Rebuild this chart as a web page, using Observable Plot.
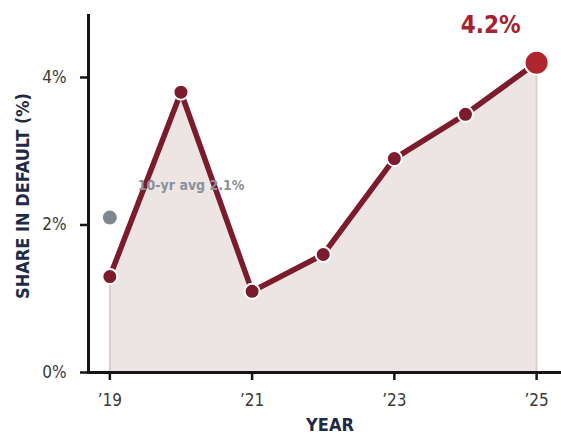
<!DOCTYPE html>
<html><head><meta charset="utf-8">
<script src="https://cdn.jsdelivr.net/npm/d3@7"></script>
<script src="https://cdn.jsdelivr.net/npm/@observablehq/plot@0.6"></script>
<style>
html,body{margin:0;padding:0;background:#fff;}
svg{font-family:"DejaVu Sans Condensed","DejaVu Sans",sans-serif;font-stretch:condensed;}
</style></head>
<body><div id="chart"></div>
<script>
const years = [2019, 2020, 2021, 2022, 2023, 2024, 2025];
const shares = [1.3, 3.8, 1.1, 1.6, 2.9, 3.5, 4.2];
const avgValue = 2.1;
const avgLabel = "10-yr avg 2.1%";
const xTicks = [2019, 2021, 2023, 2025];
const yTicks = [0, 2, 4];

const data = years.map((y, i) => ({year: y, share: shares[i]}));
const first = data[0], last = data[data.length - 1];

const chart = Plot.plot({
  width: 561, height: 436,
  marginLeft: 88, marginRight: 0, marginTop: 15, marginBottom: 64,
  x: {domain: [2018.7, 2025.35], label: null},
  y: {domain: [0, 4.84], label: null},
  style: {background: "#fff", overflow: "visible"},
  marks: [
    Plot.areaY(data, {x: "year", y: "share", fill: "#ede4e4"}),
    Plot.ruleX([first, last], {x: "year", y1: 0, y2: "share", stroke: "#dccdcf", strokeWidth: 2}),
    Plot.frame({anchor: "left", stroke: "#151515", strokeWidth: 3}),
    Plot.frame({anchor: "bottom", stroke: "#151515", strokeWidth: 3}),
    Plot.axisY({ticks: yTicks, tickFormat: d => d + "%", tickSize: 8, tickPadding: 14, fontSize: 17, stroke: "#151515", strokeWidth: 2.5, color: "#3a3a3a", label: null}),
    Plot.axisX({ticks: xTicks, tickFormat: d => "\u2019" + String(d).slice(2), tickSize: 8, tickPadding: 13, fontSize: 17, stroke: "#151515", strokeWidth: 2.5, color: "#3a3a3a", label: null}),
    Plot.lineY(data, {x: "year", y: "share", stroke: "#7b1b2b", strokeWidth: 5.5}),
    Plot.dot(data.slice(0, -1), {x: "year", y: "share", r: 7.5, fill: "#7b1b2b", stroke: "#fff", strokeWidth: 2}),
    Plot.dot([last], {x: "year", y: "share", r: 12, fill: "#b1252f", stroke: "#fff", strokeWidth: 2}),
    Plot.text([last], {x: "year", y: "share", text: d => d.share + "%", dx: -46, dy: -37, fontSize: 24, fontWeight: "bold", fill: "#a6232e"}),
    Plot.dot([{year: years[0], share: avgValue}], {x: "year", y: "share", r: 7, fill: "#7e868f"}),
    Plot.text([{year: years[0], share: avgValue}], {x: "year", y: "share", text: () => avgLabel, dx: 28, dy: -32, textAnchor: "start", fontSize: 14, fontWeight: "bold", fill: "#8a9199"}),
    Plot.text(["SHARE IN DEFAULT (%)"], {frameAnchor: "left", textAnchor: "middle", dx: -65, dy: 2, rotate: -90, fontSize: 18, fontWeight: "bold", fill: "#1f2a44"}),
    Plot.text(["YEAR"], {frameAnchor: "bottom", dx: 5, dy: 58, fontSize: 18, fontWeight: "bold", fill: "#1f2a44"})
  ]
});
document.getElementById("chart").appendChild(chart);
</script>
</body></html>
